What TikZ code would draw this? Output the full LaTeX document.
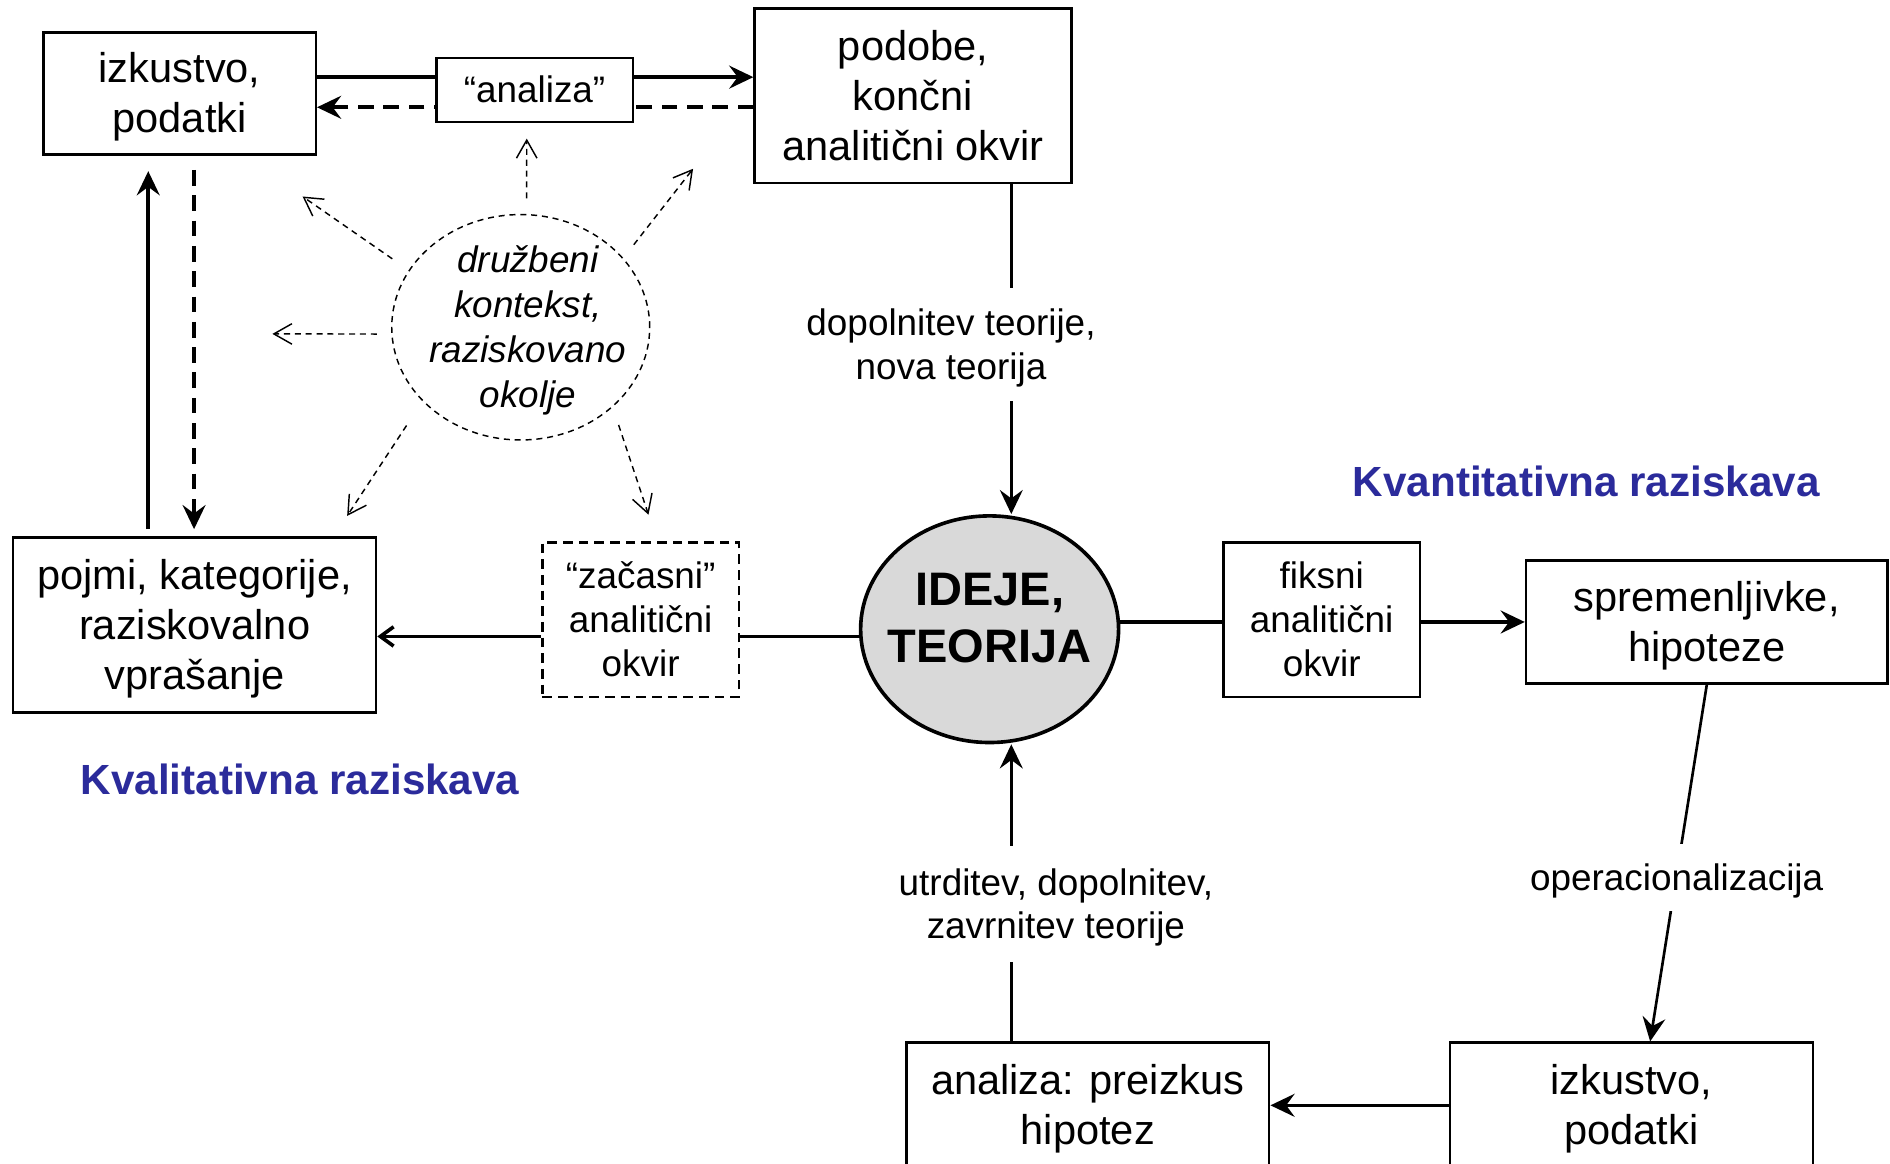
\documentclass[tikz,border=0pt]{standalone}
\usepackage{fontspec}
\setmainfont{Liberation Sans}
\usetikzlibrary{arrows.meta,calc,shapes.geometric}
\definecolor{hblue}{RGB}{43,43,155}
\definecolor{ellgray}{RGB}{217,217,217}
\newcommand{\myTs}{\rule{0pt}{0.9465em}}
\newcommand{\myBs}{\rule[-0.2535em]{0pt}{0pt}}
\newcommand{\sh}{\hspace*{6pt}}
\begin{document}
\begin{tikzpicture}[x=0.5pt,y=-0.5pt,
  box/.style={draw, line width=1pt, fill=white, align=center, inner sep=0pt, font=\fontsize{17.25}{20.75}\selectfont},
  sbox/.style={box, font=\fontsize{15.3}{18.3}\selectfont},
  lbl/.style={fill=white, align=center, inner sep=0pt, font=\fontsize{15.3}{18}\selectfont},
  conn/.style={line width=1.5pt},
  mid/.style={line width=1.1pt},
  dsh/.style={dash pattern=on 6.5pt off 4pt},
  arr/.style={-{Stealth[length=10pt,width=9.5pt,inset=3.5pt]}},
  barb/.style={-{Straight Barb[length=5.5pt,width=8pt]}},
  ctx/.style={line width=0.6pt, dash pattern=on 2.5pt off 2pt, -{Straight Barb[length=7.5pt,width=8.5pt]}},
  head/.style={font=\bfseries\fontsize{17.5}{21}\selectfont, text=hblue, inner sep=0pt}
]
\useasboundingbox (0,0) rectangle (1568,965);
% helper coordinates
\coordinate (yA1) at (0,64);
\coordinate (yA2) at (0,89);
\coordinate (x123) at (123,0);
\coordinate (x161) at (161,0);
\coordinate (x839) at (839,0);
\coordinate (y528) at (0,528);
\coordinate (y516) at (0,516);

% boxes
\node[box, minimum width=113pt, minimum height=50.5pt] (A) at (149,77.5) {\myTs izkustvo,\\podatki\myBs};
\node[box, minimum width=131.5pt, minimum height=72.5pt] (C) at (757.5,79.5) {\myTs podobe,\\končni\\analitični okvir\myBs};
\node[box, minimum width=150.5pt, minimum height=72.5pt] (D) at (161.5,518.5) {\myTs pojmi, kategorije,\\raziskovalno\\vprašanje\myBs};
\node[sbox, dash pattern=on 4pt off 2.5pt, minimum width=81.5pt, minimum height=64pt] (E) at (531.5,514) {\myTs“začasni”\\analitični\\okvir\myBs};
\node[ellipse, draw, line width=1.5pt, fill=ellgray, minimum width=107pt, minimum height=94pt, inner xsep=-7pt, inner ysep=0pt, align=center,
      font=\bfseries\fontsize{19.5}{24}\selectfont] (F) at (821,522) {\rule{0pt}{14pt}IDEJE,\\TEORIJA\rule[-10pt]{0pt}{0pt}};
\node[sbox, minimum width=81.5pt, minimum height=64pt] (G) at (1096.5,514) {\myTs fiksni\\analitični\\okvir\myBs};
\node[box, minimum width=150pt, minimum height=51pt] (H) at (1416,516) {\myTs spremenljivke,\\hipoteze\myBs};
\node[box, minimum width=150.5pt, minimum height=52pt] (I) at (1353.5,917) {\myTs izkustvo,\\podatki\myBs};
\node[box, minimum width=150.5pt, minimum height=52pt] (J) at (902.5,917) {\myTs analiza: preizkus\\hipotez\myBs};
\node[ellipse, draw, line width=0.6pt, dash pattern=on 2.5pt off 2pt, minimum width=107pt, minimum height=93.5pt, inner xsep=-8pt, inner ysep=-6pt, align=center, font=\itshape\fontsize{15.3}{18.7}\selectfont] (K) at (432,271.5) {\myTs\sh družbeni\\\sh kontekst,\\\sh raziskovano\\\sh okolje\myBs};

% top connectors
\draw[conn,arr] (A.east |- yA1) -- (C.west |- yA1);
\draw[conn,dsh,arr] (C.west |- yA2) -- (A.east |- yA2);
\node[sbox, minimum width=81.5pt, minimum height=26.5pt] (B) at (443.5,74.5) {\myTs“analiza”\myBs};

% left vertical connectors
\draw[conn,arr,shorten <=3pt,shorten >=6.5pt] (D.north -| x123) -- (A.south -| x123);
\draw[conn,dsh,arr,shorten <=6pt,shorten >=3pt] (A.south -| x161) -- (D.north -| x161);

% middle row
\draw[conn] (E.east |- y528) -- (F.west |- y528);
\draw[conn,barb] (E.west |- y528) -- (D.east |- y528);
\draw[conn] (F.east |- y516) -- (G.west |- y516);
\draw[conn,arr] (G.east |- y516) -- (H.west |- y516);

% right and bottom
\draw[mid,arr] (H.south) -- ($(I.north)+(15.5,0)$);
\node[lbl, minimum height=27.5pt] (Lop) at (1391,728) {\myTs operacionalizacija\myBs};
\draw[conn,arr] (I.west) -- (J.east);
\draw[mid,arr] (J.north -| x839) -- (F.south -| x839);
\node[lbl, minimum height=48pt] (L2) at (876,750) {\myTs utrditev, dopolnitev,\\zavrnitev teorije\myBs};
\draw[mid,arr] (C.south -| x839) -- (F.north -| x839);
\node[lbl, minimum height=47pt] (L1) at (789,286) {\myTs dopolnitev teorije,\\nova teorija\myBs};

% context arrows
\coordinate (t1) at (437,115);
\coordinate (t2) at (575,140);
\coordinate (t3) at (251,163);
\coordinate (t4) at (226,277);
\coordinate (t5) at (288,428);
\coordinate (t6) at (538,427);
\draw[ctx,shorten <=6.5pt] (K.87.3) -- (t1);
\draw[ctx,shorten <=7pt] (K.34.3) -- (t2);
\draw[ctx,shorten <=8.25pt] (K.153) -- (t3);
\draw[ctx,shorten <=6pt] (K.183) -- (t4);
\draw[ctx,shorten <=12pt] (K.217.3) -- (t5);
\draw[ctx,shorten <=7.75pt] (K.319.2) -- (t6);

% headings
\node[head] (Q1) at (1316,399) {Kvantitativna raziskava};
\node[head] (Q2) at (249,647) {Kvalitativna raziskava};
\end{tikzpicture}
\end{document}
